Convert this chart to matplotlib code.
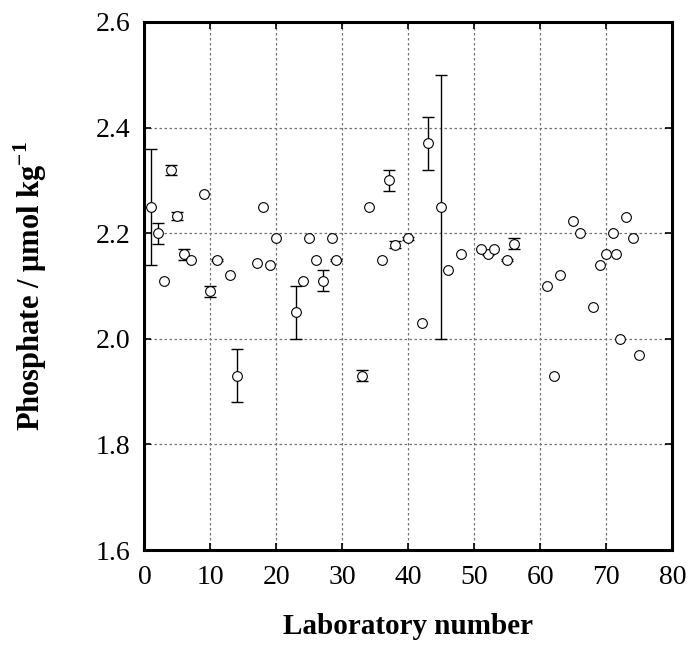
import matplotlib
matplotlib.use("Agg")

import matplotlib.pyplot as plt
import numpy as np

# ── data ─────────────────────────────────────────────────────────────────────
# labs reported without an uncertainty
lab_plain = [3, 7, 9, 13, 17, 18, 19, 20, 24, 25, 26, 28.5, 34, 36, 42, 46,
             48, 51, 53, 61, 62, 63, 65, 66, 68, 69, 70, 71, 71.5, 72, 73, 74, 75]
val_plain = [2.11, 2.15, 2.275, 2.12, 2.143, 2.25, 2.14, 2.19, 2.11, 2.19, 2.15,
             2.19, 2.25, 2.15, 2.03, 2.13, 2.16, 2.17, 2.17, 2.10, 1.93, 2.12,
             2.224, 2.20, 2.06, 2.14, 2.16, 2.20, 2.16, 2.00, 2.23, 2.19, 1.97]

# labs reported with an uncertainty
lab_err = [1, 2, 4, 5, 6, 10, 11, 14, 23, 27, 29, 33, 37, 38, 40, 43, 45,
           52, 55, 56]
val_err = [2.25, 2.20, 2.32, 2.233, 2.16, 2.09, 2.15, 1.93, 2.05, 2.11, 2.15,
           1.93, 2.30, 2.178, 2.19, 2.37, 2.25, 2.16, 2.15, 2.18]
unc_err = [0.11, 0.02, 0.01, 0.008, 0.01, 0.01, 0.002, 0.05, 0.05, 0.02, 0.002,
           0.01, 0.02, 0.007, 0.002, 0.05, 0.25, 0.002, 0.002, 0.01]

X_TICKS = [0, 10, 20, 30, 40, 50, 60, 70, 80]
Y_TICKS = [1.6, 1.8, 2.0, 2.2, 2.4, 2.6]

# ── style ─────────────────────────────────────────────────────────────────────
plt.rcParams.update({
    "font.family": "serif",
    "font.serif":  ["Liberation Serif", "DejaVu Serif"],
    "mathtext.fontset": "custom",
    "mathtext.rm": "Liberation Serif",
    "mathtext.bf": "Liberation Serif:bold",
})

fig = plt.figure(figsize=(6.91, 6.46), dpi=100)
ax = fig.add_axes([0.209, 0.1486, 0.764, 0.8174])

mk = dict(marker="o", ms=7.0, mfc="white", mec="black", mew=0.8)

ax.errorbar(lab_err, val_err, yerr=unc_err, fmt="none", ecolor="black",
            elinewidth=1.0, capsize=4.2, capthick=1.0, zorder=3)
ax.plot(lab_err, val_err, ls="none", zorder=4, **mk)
ax.plot(lab_plain, val_plain, ls="none", zorder=4, **mk)

ax.set_xlim(0, 80)
ax.set_ylim(1.6, 2.6)
ax.set_xticks(X_TICKS)
ax.set_yticks(Y_TICKS)
ax.set_yticklabels([f"{v:.1f}" for v in Y_TICKS])

ax.grid(True, color="0.45", lw=0.9, ls=(0, (2.0, 2.0)), zorder=1)
ax.tick_params(direction="in", length=5, width=1.2, labelsize=20,
               top=True, right=True)
ax.tick_params(axis="x", pad=11)
ax.tick_params(axis="y", pad=10)
for s in ax.spines.values():
    s.set_linewidth(2.2)

ax.set_xlabel("Laboratory number", fontsize=21, fontweight="bold", labelpad=16)
ax.set_ylabel(r"Phosphate / $\mathbf{\mu}$mol kg$^{\mathbf{-1}}$",
              fontsize=22, fontweight="bold", labelpad=34)

fig.savefig("out.png", dpi=100)
